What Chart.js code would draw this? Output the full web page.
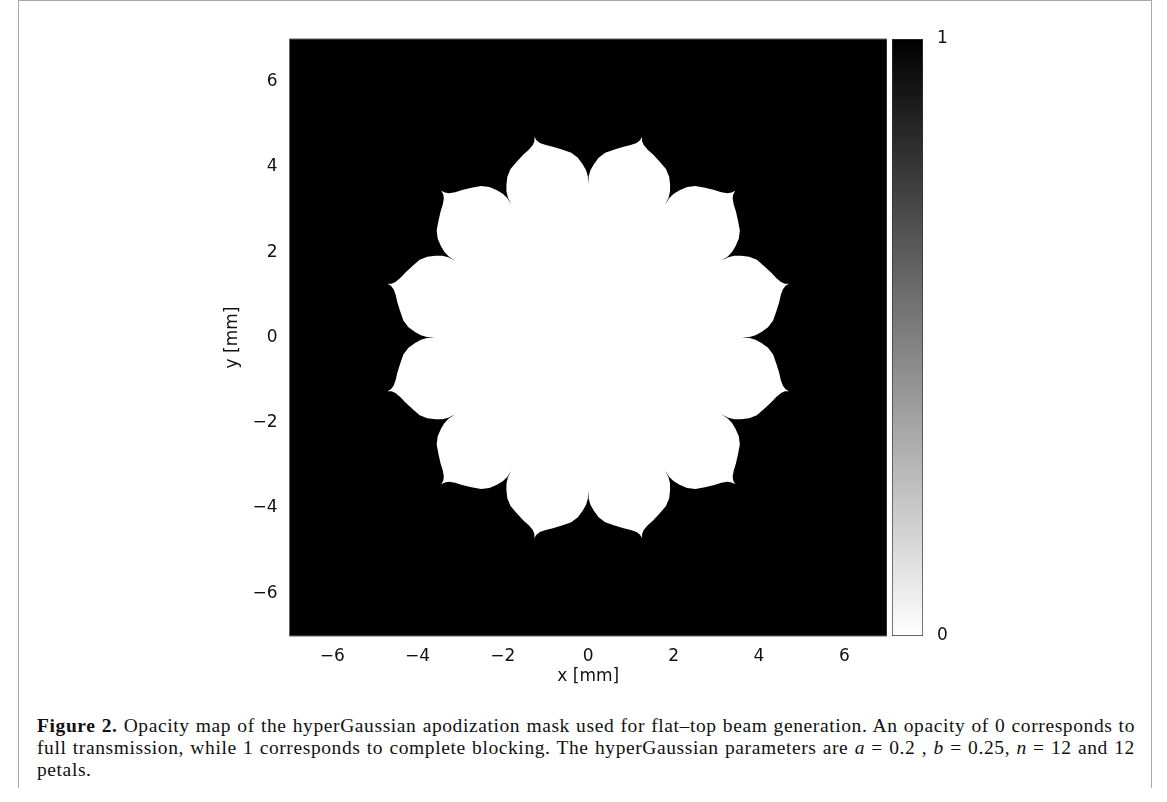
<!DOCTYPE html>
<html>
<head>
<meta charset="utf-8">
<script src="https://cdn.jsdelivr.net/npm/chart.js@4.4.1/dist/chart.umd.min.js"></script>
<style>
  html, body { margin: 0; padding: 0; background: #fff; }
  body { width: 1167px; height: 802px; position: relative; overflow: hidden; }
  .frame { position: absolute; left: 18px; top: 0; width: 1132px; height: 787px;
           border-left: 1px solid #aaa; border-top: 1px solid #aaa; border-right: 1px solid #aaa; }
  #maskWrap { position: absolute; left: 199px; top: 30px; width: 688px; height: 661px; }
  #barWrap { position: absolute; left: 892px; top: 20px; width: 80px; height: 631px; }
  .caption { position: absolute; left: 37px; top: 715px; width: 1098px;
             font-family: 'Liberation Serif', 'DejaVu Serif', serif; font-size: 19.5px; line-height: 22px;
             letter-spacing: 0.6px; color: #111; }
  .caption div { text-align: justify; text-align-last: justify; white-space: nowrap; }
  .caption div.last { text-align-last: left; }
</style>
</head>
<body>
<div class="frame"></div>
<div id="maskWrap"><canvas id="maskChart"></canvas></div>
<div id="barWrap"><canvas id="barChart"></canvas></div>
<div class="caption">
  <div><b>Figure 2.</b> Opacity map of the hyperGaussian apodization mask used for flat–top beam generation. An opacity of 0 corresponds to</div>
  <div>full transmission, while 1 corresponds to complete blocking. The hyperGaussian parameters are <i>a</i> = 0.2 , <i>b</i> = 0.25, <i>n</i> = 12 and 12</div>
  <div class="last">petals.</div>
</div>
<script>
// ---- data ----
const axisTicks = [-6, -4, -2, 0, 2, 4, 6];
const petalCount = 12;
// one petal, from the valley out to the tip: radius [mm] and share of its 15° half-sector
const petalRadius = [3.60, 3.78, 3.92, 4.06, 4.22, 4.35, 4.45, 4.55, 4.62, 4.70, 4.78, 4.87];
const petalWidth  = [1.00, 0.99, 0.95, 0.88, 0.78, 0.65, 0.47, 0.30, 0.17, 0.07, 0.02, 0.00];
const colorbarRange = [0, 1];
const colorbarTicks = [0, 1];

const font = { family: "'DejaVu Sans', sans-serif", size: 17 };
const minus = v => String(v).replace('-', '\u2212');
const noPad = s => { s.paddingTop = 0; s.paddingBottom = 0; s.paddingLeft = 0; s.paddingRight = 0; };

// outline of the clear aperture, petal by petal round the centre
const outline = [];
const half = Math.PI / petalCount;
for (let k = 0; k < petalCount; k++) {
  const centre = half + 2 * half * k;
  for (let i = 0; i < petalRadius.length; i++) {
    const a = centre - half * petalWidth[i];
    outline.push({ x: petalRadius[i] * Math.cos(a), y: petalRadius[i] * Math.sin(a) });
  }
  for (let i = petalRadius.length - 2; i >= 1; i--) {
    const a = centre + half * petalWidth[i];
    outline.push({ x: petalRadius[i] * Math.cos(a), y: petalRadius[i] * Math.sin(a) });
  }
}

// black mask behind the aperture + thin frame
const maskBackground = {
  id: 'maskBackground',
  beforeDatasetsDraw(chart) {
    const { ctx, chartArea: a } = chart;
    ctx.save();
    ctx.fillStyle = '#000';
    ctx.fillRect(a.left, a.top, a.width, a.height);
    ctx.restore();
  },
  afterDatasetsDraw(chart) {
    const { ctx, chartArea: a } = chart;
    ctx.save();
    ctx.strokeStyle = '#666';
    ctx.lineWidth = 1;
    ctx.strokeRect(a.left, a.top, a.width, a.height);
    ctx.restore();
  }
};

new Chart(document.getElementById('maskChart'), {
  type: 'line',
  data: {
    datasets: [{
      data: outline,
      parsing: false,
      borderWidth: 0,
      borderColor: '#fff',
      backgroundColor: '#fff',
      pointRadius: 0,
      tension: 0,
      fill: 'shape'
    }]
  },
  options: {
    responsive: true,
    maintainAspectRatio: false,
    animation: false,
    layout: { padding: { top: 9, left: 19, right: 0, bottom: 0 } },
    plugins: { legend: { display: false }, tooltip: { enabled: false } },
    scales: {
      x: {
        type: 'linear', min: -7, max: 7,
        afterBuildTicks: s => { s.ticks = axisTicks.map(v => ({ value: v })); },
        afterFit: s => { s.height = 55; noPad(s); },
        grid: { display: false, drawTicks: false }, border: { display: false },
        ticks: { font, color: '#111', padding: 10, callback: minus, maxRotation: 0 },
        title: { display: true, text: 'x [mm]', font, color: '#111', padding: { top: 0, bottom: 4 } }
      },
      y: {
        type: 'linear', min: -7, max: 7,
        afterBuildTicks: s => { s.ticks = axisTicks.map(v => ({ value: v })); },
        afterFit: s => { s.width = 71.5; noPad(s); },
        grid: { display: false, drawTicks: false }, border: { display: false },
        ticks: { font, color: '#111', padding: 12, callback: minus },
        title: { display: true, text: 'y [mm]', font, color: '#111' }
      }
    }
  },
  plugins: [maskBackground]
});

// ---- colorbar ----
new Chart(document.getElementById('barChart'), {
  type: 'bar',
  data: {
    labels: [''],
    datasets: [{
      data: [colorbarRange],
      backgroundColor: c => {
        const a = c.chart.chartArea;
        if (!a) return '#888';
        const g = c.chart.ctx.createLinearGradient(0, a.bottom, 0, a.top);
        g.addColorStop(0, '#ffffff');
        g.addColorStop(1, '#000000');
        return g;
      },
      borderColor: '#333',
      borderWidth: 1,
      borderSkipped: false,
      barPercentage: 1,
      categoryPercentage: 1
    }]
  },
  options: {
    responsive: true,
    maintainAspectRatio: false,
    animation: false,
    layout: { padding: { top: 19, bottom: 15, left: 0, right: 0 } },
    plugins: { legend: { display: false }, tooltip: { enabled: false } },
    scales: {
      x: { display: false, afterFit: noPad },
      y: {
        position: 'right', min: 0, max: 1,
        afterBuildTicks: s => { s.ticks = colorbarTicks.map(v => ({ value: v })); },
        afterFit: s => { s.width = 49; noPad(s); },
        grid: { display: false, drawTicks: false }, border: { display: false },
        ticks: { font, color: '#111', padding: 14 }
      }
    }
  }
});
</script>
</body>
</html>
